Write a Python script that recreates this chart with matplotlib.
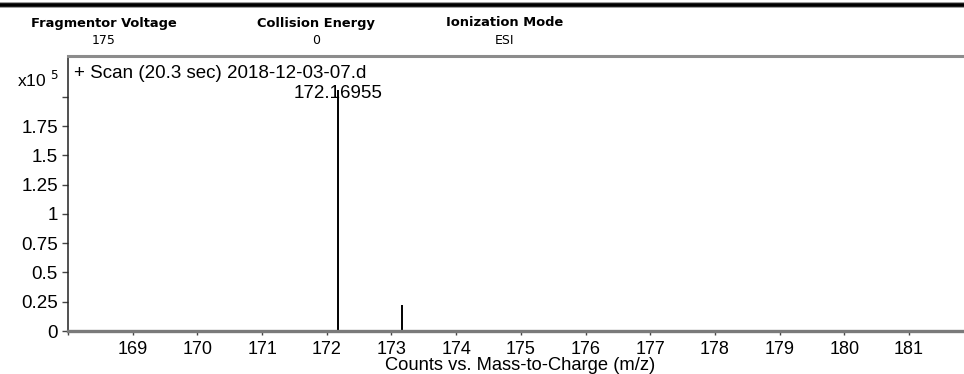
import matplotlib
matplotlib.use("Agg")
import matplotlib.pyplot as plt
from matplotlib.lines import Line2D

# Data
peak_mz = [172.16955, 173.17]
peak_counts = [2.06, 0.22]          # x10^5
peak_labels = ["172.16955", ""]
y_ticks = [0, 0.25, 0.5, 0.75, 1, 1.25, 1.5, 1.75, 2.0]
y_tick_labels = ["0", "0.25", "0.5", "0.75", "1", "1.25", "1.5", "1.75", ""]
x_ticks = [168, 169, 170, 171, 172, 173, 174, 175, 176, 177, 178, 179, 180, 181]
x_tick_labels = ["", "169", "170", "171", "172", "173", "174", "175", "176",
                 "177", "178", "179", "180", "181"]
header_names = ["Fragmentor Voltage", "Collision Energy", "Ionization Mode"]
header_values = ["175", "0", "ESI"]

W, H = 964, 374
plt.rcParams['font.family'] = ['Liberation Sans', 'DejaVu Sans']
fig = plt.figure(figsize=(W / 100, H / 100), dpi=100)

left, right, bottom, top = 68, 964, 331, 56
ax = fig.add_axes([left / W, 1 - bottom / H, (right - left) / W, (bottom - top) / H])
ax.set_xlim(168.0, 181.85)
ax.set_ylim(0, 2.348)

FS = 13.5
ax.vlines(peak_mz, 0, peak_counts, color="black", linewidth=1.4)
for x, y, lab in zip(peak_mz, peak_counts, peak_labels):
    if lab:
        ax.annotate(lab, (x, y), xytext=(0, -2.5), textcoords="offset points",
                    ha="center", va="center", fontsize=FS)

ax.set_yticks(y_ticks)
ax.set_yticklabels(y_tick_labels, fontsize=FS)
ax.set_xticks(x_ticks)
ax.set_xticklabels(x_tick_labels, fontsize=13)
ax.tick_params(axis="y", direction="out", length=4.3, width=1, color="#444444", pad=3)
ax.tick_params(axis="x", direction="out", length=3, width=1, color="#444444", pad=4)

ax.spines["right"].set_visible(False)
ax.spines["top"].set_color("#8c8c8c")
ax.spines["top"].set_linewidth(2.2)
ax.spines["bottom"].set_color("#7a7a7a")
ax.spines["bottom"].set_linewidth(2.4)
ax.spines["left"].set_color("#222222")
ax.spines["left"].set_linewidth(1.1)

ax.text(74 / W, 1 - 74 / H, "+ Scan (20.3 sec) 2018-12-03-07.d", transform=fig.transFigure,
        ha="left", va="center", fontsize=FS)
fig.text(59 / W, 1 - 80 / H, "x10 $^{5}$", ha="right", va="center", fontsize=12.5)

ax.set_xlabel("Counts vs. Mass-to-Charge (m/z)", fontsize=13.2, va="top")
ax.xaxis.set_label_coords(0.505, (331 - 356.5) / 275)

# top thick rule
fig.add_artist(Line2D([0, 1], [1 - 5 / H, 1 - 5 / H], color="#999999", linewidth=4.2,
                      transform=fig.transFigure))
fig.add_artist(Line2D([0, 1], [1 - 5 / H, 1 - 5 / H], color="black", linewidth=2.6,
                      transform=fig.transFigure))
centers = [104, 316, 505]
for cx, name, val in zip(centers, header_names, header_values):
    fig.text(cx / W, 1 - 23 / H, name, ha="center", va="center", fontsize=9.4,
             fontweight="bold", family=["DejaVu Sans"])
    fig.text(cx / W, 1 - 41 / H, val, ha="center", va="center", fontsize=9,
             family=["DejaVu Sans"])

fig.savefig("out.png", dpi=100)
